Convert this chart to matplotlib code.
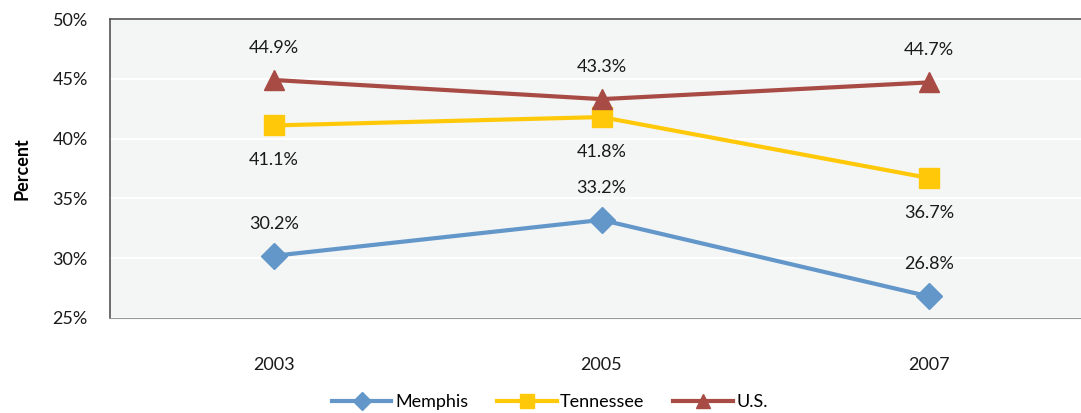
import matplotlib.pyplot as plt
from matplotlib.ticker import FuncFormatter

years = ["2003", "2005", "2007"]
memphis = [30.2, 33.2, 26.8]
tennessee = [41.1, 41.8, 36.7]
us = [44.9, 43.3, 44.7]
yticks = [25, 30, 35, 40, 45, 50]

plt.rcParams['font.family'] = ['Lato', 'DejaVu Sans']

fig = plt.figure(figsize=(10.81, 4.13), dpi=100)
W, H = 1081, 413
left, top, right, bottom = 110, 19, 1093, 318
ax = fig.add_axes([left / W, 1 - bottom / H, (right - left) / W, (bottom - top) / H])
ax.set_facecolor('#f4f5f5')

x = list(range(len(years)))
series = [
    ("Memphis", memphis, '#6397c9', 'D', 13, 'above'),
    ("Tennessee", tennessee, '#ffc90a', 's', 15, 'below'),
    ("U.S.", us, '#a84b45', '^', 15, 'above'),
]
for name, vals, col, mk, ms, pos in series:
    ax.plot(x, vals, color=col, lw=3, marker=mk, markersize=ms, label=name, zorder=3)
    for xi, v in zip(x, vals):
        dy = 2.7 if pos == 'above' else -2.9
        ax.text(xi, v + dy, f"{v:.1f}%", ha='center', va='center', fontsize=13, color='#1a1a1a')

ax.set_xlim(-0.5, 2.5)
ax.set_ylim(25, 50)
ax.set_yticks(yticks)
ax.yaxis.set_major_formatter(FuncFormatter(lambda v, p: f"{v:.0f}%"))
ax.set_xticks(x)
ax.set_xticklabels(years)
ax.tick_params(axis='both', length=0, labelsize=13, colors='#1a1a1a')
ax.tick_params(axis='x', pad=28)
ax.tick_params(axis='y', pad=16)
ax.grid(axis='y', color='white', lw=1.5)
ax.set_axisbelow(True)
for s in ['top', 'left']:
    ax.spines[s].set_color('#555555')
    ax.spines[s].set_linewidth(1.2)
ax.spines['bottom'].set_color('#999999')
ax.spines['right'].set_visible(False)

ax.set_ylabel("Percent", fontsize=13, fontweight='bold', labelpad=16)

fig.legend(loc='center', bbox_to_anchor=(550 / W, 1 - 402 / H), ncol=3, frameon=False,
           fontsize=13, handlelength=3.3, columnspacing=1.6, handletextpad=0.2, markerscale=0.7)

fig.savefig("out.png", dpi=100)
